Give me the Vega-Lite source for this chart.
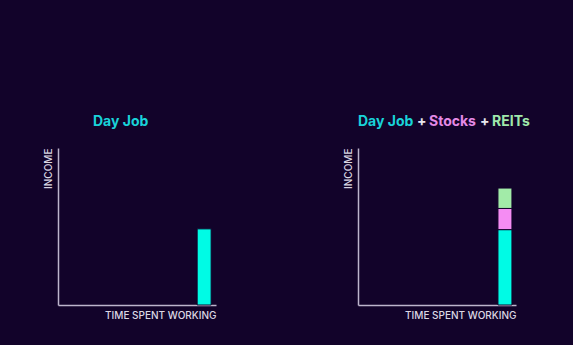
{
  "$schema": "https://vega.github.io/schema/vega-lite/v6.json",
  "background": "#12032a",
  "padding": {"left": 42, "top": 115, "right": 50, "bottom": 35},
  "spacing": 126,
  "config": {
    "view": {"stroke": null},
    "font": "Inter",
    "axis": {
      "domainColor": "#bdb5cc",
      "domainWidth": 1.5,
      "ticks": false,
      "labels": false,
      "grid": false,
      "titleColor": "#dcd8e4",
      "titleFont": "Inter",
      "titleFontSize": 10,
      "titleFontWeight": 500
    }
  },
  "datasets": {
    "income": [
      {"panel": "left", "source": "Day Job", "layer": 1, "time": 9.25, "income": 4.85},
      {"panel": "right", "source": "Day Job", "layer": 1, "time": 9.3, "income": 4.8},
      {"panel": "right", "source": "Stocks", "layer": 2, "time": 9.3, "income": 1.35},
      {"panel": "right", "source": "REITs", "layer": 3, "time": 9.3, "income": 1.3}
    ]
  },
  "hconcat": [
    {
      "width": 158,
      "height": 157,
      "layer": [
        {
          "data": {"name": "income"},
          "transform": [{"filter": "datum.panel === 'left'"}],
          "mark": {"type": "bar", "orient": "vertical", "width": 14, "stroke": "#12032a", "strokeWidth": 1},
          "encoding": {
            "x": {"field": "time", "type": "quantitative", "scale": {"domain": [0, 10], "padding": 0, "nice": false},
                  "axis": {"title": "TIME SPENT WORKING", "titleAnchor": "end", "titlePadding": 5}},
            "y": {"field": "income", "type": "quantitative", "stack": "zero", "scale": {"domain": [0, 10]},
                  "axis": {"title": "INCOME", "titleAnchor": "end", "titlePadding": 5}},
            "color": {"field": "source", "type": "nominal",
                      "scale": {"domain": ["Day Job", "Stocks", "REITs"], "range": ["#00fbe5", "#f58cf3", "#a2eba8"]},
                      "legend": null},
            "order": {"field": "layer", "type": "quantitative"}
          }
        },
        {
          "data": {"values": [{"label": "Day Job"}]},
          "mark": {"type": "text", "x": 35, "y": -22, "align": "left", "baseline": "alphabetic",
                   "font": "Inter", "fontWeight": "bold", "fontSize": 14, "color": "#19d3d9"},
          "encoding": {"text": {"field": "label"}}
        }
      ]
    },
    {
      "width": 158,
      "height": 157,
      "layer": [
        {
          "data": {"name": "income"},
          "transform": [{"filter": "datum.panel === 'right'"}],
          "mark": {"type": "bar", "orient": "vertical", "width": 14, "stroke": "#12032a", "strokeWidth": 1},
          "encoding": {
            "x": {"field": "time", "type": "quantitative", "scale": {"domain": [0, 10], "padding": 0, "nice": false},
                  "axis": {"title": "TIME SPENT WORKING", "titleAnchor": "end", "titlePadding": 5}},
            "y": {"field": "income", "type": "quantitative", "stack": "zero", "scale": {"domain": [0, 10]},
                  "axis": {"title": "INCOME", "titleAnchor": "end", "titlePadding": 5}},
            "color": {"field": "source", "type": "nominal",
                      "scale": {"domain": ["Day Job", "Stocks", "REITs"], "range": ["#00fbe5", "#f58cf3", "#a2eba8"]},
                      "legend": null},
            "order": {"field": "layer", "type": "quantitative"}
          }
        },
        {
          "data": {"values": [{"label": "Day Job"}]},
          "mark": {"type": "text", "x": 0, "y": -22, "align": "left", "baseline": "alphabetic",
                   "font": "Inter", "fontWeight": "bold", "fontSize": 14, "color": "#19d3d9"},
          "encoding": {"text": {"field": "label"}}
        },
        {
          "data": {"values": [{"label": "+"}]},
          "mark": {"type": "text", "x": 59, "y": -22, "align": "left", "baseline": "alphabetic",
                   "font": "Inter", "fontWeight": "bold", "fontSize": 14, "color": "#e6e6ee"},
          "encoding": {"text": {"field": "label"}}
        },
        {
          "data": {"values": [{"label": "Stocks"}]},
          "mark": {"type": "text", "x": 71, "y": -22, "align": "left", "baseline": "alphabetic",
                   "font": "Inter", "fontWeight": "bold", "fontSize": 14, "color": "#e58ae6"},
          "encoding": {"text": {"field": "label"}}
        },
        {
          "data": {"values": [{"label": "+"}]},
          "mark": {"type": "text", "x": 122, "y": -22, "align": "left", "baseline": "alphabetic",
                   "font": "Inter", "fontWeight": "bold", "fontSize": 14, "color": "#e6e6ee"},
          "encoding": {"text": {"field": "label"}}
        },
        {
          "data": {"values": [{"label": "REITs"}]},
          "mark": {"type": "text", "x": 134, "y": -22, "align": "left", "baseline": "alphabetic",
                   "font": "Inter", "fontWeight": "bold", "fontSize": 14, "color": "#9fe8ab"},
          "encoding": {"text": {"field": "label"}}
        }
      ]
    }
  ]
}
